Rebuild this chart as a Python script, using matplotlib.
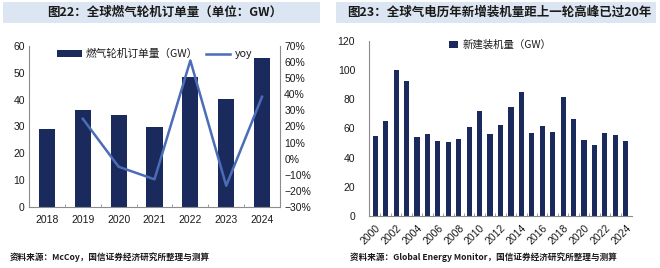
import numpy as np
from matplotlib import pyplot as plt
from matplotlib.patches import Rectangle
from matplotlib.ticker import FixedLocator, PercentFormatter

# ---------------------------- Data -----------------------------

order_years = ['2018', '2019', '2020', '2021', '2022', '2023', '2024']
order_gw = [29.0, 36.2, 34.4, 30.0, 48.3, 40.2, 55.5]
order_yoy = [None, 24.8, -5.0, -12.8, 61.0, -16.8, 38.5]

install_years = list(range(2000, 2025))
install_gw = [55, 65, 100, 92.8, 54, 56, 51.7, 50.7, 53, 60.8,
              72, 56, 62.2, 74.5, 85, 57, 62, 57.4, 81.4, 66.3,
              52, 48.7, 57, 55.8, 51.7]

# --------------------------- Styles ----------------------------

plt.rcParams['font.family'] = ['Liberation Sans', 'Noto Sans CJK SC', 'DejaVu Sans']
BAR = '#1b2a5c'
LINE = '#4b6cb7'
SPINE = '#8c8c8c'
TITLE_BG = '#dce6f2'
TXT = '#1a1a1a'
CJK = ['Noto Sans CJK SC', 'DejaVu Sans']

fig = plt.figure(figsize=(6.6, 2.68), dpi=100)
W, H = 660, 268


def px_axes(x0, y0, x1, y1):
    return fig.add_axes([x0 / W, 1 - y1 / H, (x1 - x0) / W, (y1 - y0) / H])


def title_bar(x0, x1, text, tx):
    fig.patches.append(Rectangle((x0 / W, 1 - 23 / H), (x1 - x0) / W, 21 / H,
                                 transform=fig.transFigure, facecolor=TITLE_BG,
                                 edgecolor='none', zorder=0))
    fig.text(tx / W, 1 - 12.5 / H, text, family=CJK, fontsize=9, fontweight='bold',
             color=TXT, va='center', ha='left')


def style_spines(ax):
    for s in ['top', 'right']:
        ax.spines[s].set_visible(False)
    for s in ['left', 'bottom']:
        ax.spines[s].set_color(SPINE)
        ax.spines[s].set_linewidth(0.8)
    ax.tick_params(axis='both', colors=TXT, labelsize=7.5, length=0, pad=3)


# ------------------------ Left: orders -------------------------

title_bar(3, 320, '图22：全球燃气轮机订单量（单位：GW）', 47)

ax1 = px_axes(29, 46, 280, 207)
x = np.arange(len(order_years))
bars = ax1.bar(x, order_gw, width=0.45, color=BAR, zorder=2)
ax1.set_xlim(-0.5, len(order_years) - 0.5)
ax1.set_ylim(0, 60)
ax1.set_yticks(range(0, 61, 10))
ax1.set_xticks(x)
ax1.set_xticklabels(order_years)
style_spines(ax1)
ax1.xaxis.set_minor_locator(FixedLocator(x[:-1] + 0.5))
ax1.tick_params(axis='x', which='minor', direction='in', length=2, color=SPINE)
ax1.tick_params(axis='x', pad=6)

ax2 = ax1.twinx()
yx = [i for i, v in enumerate(order_yoy) if v is not None]
yv = [v for v in order_yoy if v is not None]
line, = ax2.plot(yx, yv, color=LINE, lw=1.8, zorder=3)
ax2.set_ylim(-30, 70)
ax2.set_yticks(range(-30, 71, 10))
ax2.yaxis.set_major_formatter(PercentFormatter(decimals=0))
for s in ['top', 'left', 'bottom']:
    ax2.spines[s].set_visible(False)
ax2.spines['right'].set_color(SPINE)
ax2.spines['right'].set_linewidth(0.8)
ax2.tick_params(axis='y', colors=TXT, labelsize=7.5, length=0, pad=3)

leg = ax1.legend([bars, line], ['燃气轮机订单量（GW）', 'yoy'], loc='upper center',
                 bbox_to_anchor=(0.5, 1.04), ncol=2, frameon=False,
                 prop={'family': CJK, 'size': 7.7},
                 handlelength=2.3, handleheight=0.7, columnspacing=0.7, handletextpad=0.4)
for t in leg.get_texts():
    t.set_color(TXT)

fig.text(10 / W, 1 - 257 / H, '资料来源：McCoy，国信证券经济研究所整理与测算', family=CJK,
         fontsize=6.2, fontweight='bold', color=TXT, va='center')

# ----------------------- Right: installs -----------------------

title_bar(336, 656, '图23：全球气电历年新增装机量距上一轮高峰已过20年', 347)

ax3 = px_axes(369, 41, 632, 216)
xi = np.arange(len(install_years))
b3 = ax3.bar(xi, install_gw, width=0.5, color=BAR, zorder=2)
ax3.set_xlim(-0.6, len(install_years) - 0.4)
ax3.set_ylim(0, 120)
ax3.set_yticks(range(0, 121, 20))
ax3.set_xticks(xi[::2])
ax3.set_xticklabels([str(y) for y in install_years[::2]], rotation=45, ha='right',
                    rotation_mode='anchor')
style_spines(ax3)
ax3.xaxis.set_minor_locator(FixedLocator(xi[:-1] + 0.5))
ax3.tick_params(axis='x', which='minor', direction='in', length=2, color=SPINE)
ax3.tick_params(axis='x', pad=5)
ax3.tick_params(axis='y', pad=10)

leg3 = ax3.legend([b3], ['新建装机量（GW）'], loc='upper center', bbox_to_anchor=(0.5, 1.06),
                  frameon=False, prop={'family': CJK, 'size': 7.5},
                  handlelength=0.8, handleheight=0.8, handletextpad=0.5)
for t in leg3.get_texts():
    t.set_color(TXT)

fig.text(350 / W, 1 - 257 / H, '资料来源：Global Energy Monitor，国信证券经济研究所整理与测算',
         family=CJK, fontsize=6.2, fontweight='bold', color=TXT, va='center')

fig.savefig('out.png', dpi=100)
